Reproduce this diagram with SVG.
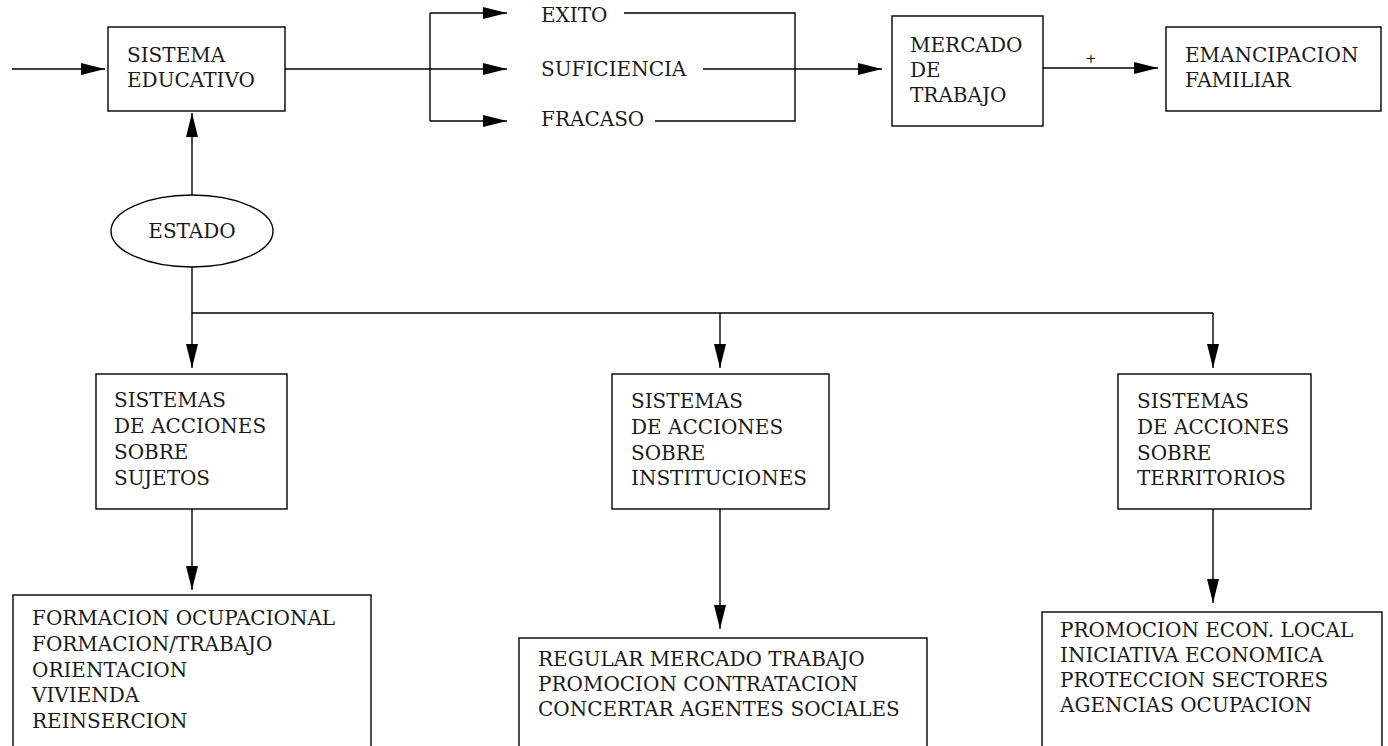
<svg xmlns="http://www.w3.org/2000/svg" width="1388" height="746" viewBox="0 0 1388 746">
<defs>
<style>
.box{fill:#fff;stroke:#000;stroke-width:1.4}
.ln{fill:none;stroke:#000;stroke-width:1.4}
.t{font-family:'DejaVu Serif','Liberation Serif',serif;font-size:20px;fill:#1a1a1a}
.s{font-family:'DejaVu Serif','Liberation Serif',serif;font-size:13px;fill:#000}
</style>
<marker id="ah" markerWidth="24" markerHeight="12" refX="24" refY="6" orient="auto" markerUnits="userSpaceOnUse">
<path d="M0,0 L24,6 L0,12 z" fill="#000"/>
</marker>
</defs>
<rect width="1388" height="746" fill="#fff"/>
<g id="connectors">
<path class="ln" d="M12,69 H105" marker-end="url(#ah)"/>
<path class="ln" d="M285,69 H507" marker-end="url(#ah)"/>
<path class="ln" d="M430,13 H507" marker-end="url(#ah)"/>
<path class="ln" d="M430,121 H507" marker-end="url(#ah)"/>
<path class="ln" d="M430,13 V121"/>
<path class="ln" d="M624,13 H795 V121 H655"/>
<path class="ln" d="M703,69 H882" marker-end="url(#ah)"/>
<path class="ln" d="M1043,68 H1158" marker-end="url(#ah)"/>
<text class="s" x="1091" y="63" text-anchor="middle">+</text>
<path class="ln" d="M192,195 V113" marker-end="url(#ah)"/>
<path class="ln" d="M192,267 V313 H1213"/>
<path class="ln" d="M192,313 V368" marker-end="url(#ah)"/>
<path class="ln" d="M720,313 V368" marker-end="url(#ah)"/>
<path class="ln" d="M1213,313 V368" marker-end="url(#ah)"/>
<path class="ln" d="M192,509 V590" marker-end="url(#ah)"/>
<path class="ln" d="M720,509 V629" marker-end="url(#ah)"/>
<path class="ln" d="M1213,509 V603" marker-end="url(#ah)"/>
</g>
<g id="sistema-educativo">
<rect class="box" x="108" y="27" width="177" height="84"/>
<text class="t" x="127" y="62">SISTEMA</text>
<text class="t" x="127" y="87">EDUCATIVO</text>
</g>
<g id="exito"><text class="t" x="541" y="22">EXITO</text></g>
<g id="suficiencia"><text class="t" x="541" y="76">SUFICIENCIA</text></g>
<g id="fracaso"><text class="t" x="541" y="126">FRACASO</text></g>
<g id="mercado">
<rect class="box" x="892" y="16" width="151" height="110"/>
<text class="t" x="910" y="52">MERCADO</text>
<text class="t" x="910" y="77">DE</text>
<text class="t" x="910" y="102">TRABAJO</text>
</g>
<g id="emancipacion">
<rect class="box" x="1166" y="27" width="215" height="84"/>
<text class="t" x="1185" y="62">EMANCIPACION</text>
<text class="t" x="1185" y="87">FAMILIAR</text>
</g>
<g id="estado">
<ellipse class="box" cx="192" cy="231" rx="81" ry="36"/>
<text class="t" x="192" y="238" text-anchor="middle">ESTADO</text>
</g>
<g id="sujetos">
<rect class="box" x="96" y="374" width="191" height="135"/>
<text class="t" x="114" y="407">SISTEMAS</text>
<text class="t" x="114" y="433">DE ACCIONES</text>
<text class="t" x="114" y="459">SOBRE</text>
<text class="t" x="114" y="485">SUJETOS</text>
</g>
<g id="instituciones">
<rect class="box" x="612" y="374" width="217" height="135"/>
<text class="t" x="631" y="408">SISTEMAS</text>
<text class="t" x="631" y="434">DE ACCIONES</text>
<text class="t" x="631" y="460">SOBRE</text>
<text class="t" x="631" y="485">INSTITUCIONES</text>
</g>
<g id="territorios">
<rect class="box" x="1118" y="374" width="193" height="135"/>
<text class="t" x="1137" y="408">SISTEMAS</text>
<text class="t" x="1137" y="434">DE ACCIONES</text>
<text class="t" x="1137" y="460">SOBRE</text>
<text class="t" x="1137" y="485">TERRITORIOS</text>
</g>
<g id="acciones-sujetos">
<rect class="box" x="13" y="595" width="358" height="200"/>
<text class="t" x="32" y="625">FORMACION OCUPACIONAL</text>
<text class="t" x="32" y="651">FORMACION/TRABAJO</text>
<text class="t" x="32" y="677">ORIENTACION</text>
<text class="t" x="32" y="702">VIVIENDA</text>
<text class="t" x="32" y="728">REINSERCION</text>
</g>
<g id="acciones-instituciones">
<rect class="box" x="519" y="638" width="408" height="200"/>
<text class="t" x="538" y="666">REGULAR MERCADO TRABAJO</text>
<text class="t" x="538" y="691">PROMOCION CONTRATACION</text>
<text class="t" x="538" y="716">CONCERTAR AGENTES SOCIALES</text>
</g>
<g id="acciones-territorios">
<rect class="box" x="1042" y="612" width="340" height="200"/>
<text class="t" x="1060" y="637">PROMOCION ECON. LOCAL</text>
<text class="t" x="1060" y="662">INICIATIVA ECONOMICA</text>
<text class="t" x="1060" y="687">PROTECCION SECTORES</text>
<text class="t" x="1060" y="712">AGENCIAS OCUPACION</text>
</g>
</svg>
